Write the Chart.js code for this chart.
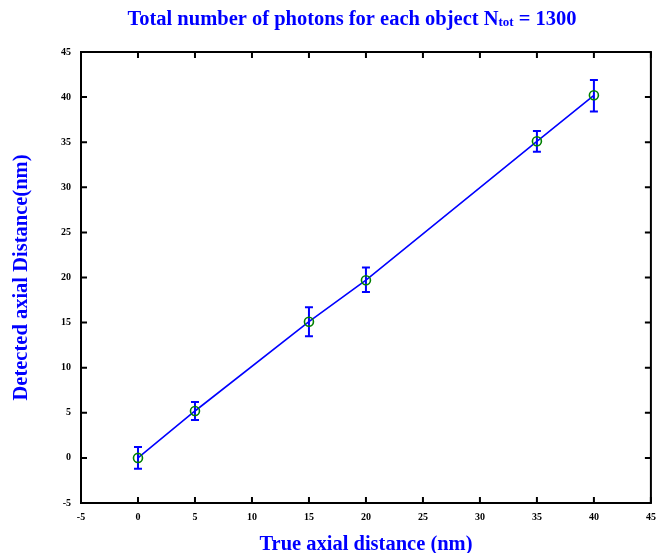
<!DOCTYPE html>
<html>
<head>
<meta charset="utf-8">
<script src="https://cdn.jsdelivr.net/npm/chart.js@4.4.1/dist/chart.umd.min.js"></script>
<style>
html, body { margin: 0; padding: 0; background: #fff; }
#wrap { width: 657px; height: 553px; position: relative; }
</style>
</head>
<body>
<div id="wrap"><canvas id="myChart"></canvas></div>
<script>
// data
var trueDistance = [0, 5, 15, 20, 35, 40];
var detectedDistance = [0, 5.2, 15.1, 19.7, 35.1, 40.2];
var errorLow = [1.2, 1.0, 1.6, 1.3, 1.15, 1.8];
var errorHigh = [1.2, 1.0, 1.6, 1.4, 1.15, 1.7];
var axisTicks = [-5, 0, 5, 10, 15, 20, 25, 30, 35, 40, 45];

var blue = '#0000ff';
var green = '#008000';
var serif = '"Liberation Serif", "Times New Roman", serif';

var points = trueDistance.map(function(x, i) {
    return { x: x, y: detectedDistance[i] };
});

// error bars, drawn under the markers
const errorBars = {
    id: 'errorBars',
    beforeDatasetsDraw: function(chart) {
        const ctx = chart.ctx;
        const xs = chart.scales.x, ys = chart.scales.y;
        ctx.save();
        ctx.strokeStyle = blue;
        ctx.lineWidth = 2;
        trueDistance.forEach(function(x, i) {
            var px = xs.getPixelForValue(x);
            var top = ys.getPixelForValue(detectedDistance[i] + errorHigh[i]);
            var bot = ys.getPixelForValue(detectedDistance[i] - errorLow[i]);
            ctx.beginPath();
            ctx.moveTo(px, top); ctx.lineTo(px, bot);
            ctx.moveTo(px - 4, top); ctx.lineTo(px + 4, top);
            ctx.moveTo(px - 4, bot); ctx.lineTo(px + 4, bot);
            ctx.stroke();
        });
        ctx.restore();
    }
};

// box round the plot with inward ticks, and title with subscript
const frame = {
    id: 'frame',
    afterDraw: function(chart) {
        const ctx = chart.ctx;
        const a = chart.chartArea;
        const xs = chart.scales.x, ys = chart.scales.y;
        ctx.save();
        ctx.strokeStyle = '#000';
        ctx.lineWidth = 2;
        ctx.strokeRect(a.left, a.top, a.right - a.left, a.bottom - a.top);
        ctx.beginPath();
        axisTicks.forEach(function(t) {
            var px = xs.getPixelForValue(t);
            ctx.moveTo(px, a.bottom); ctx.lineTo(px, a.bottom - 6);
            ctx.moveTo(px, a.top); ctx.lineTo(px, a.top + 6);
            var py = ys.getPixelForValue(t);
            ctx.moveTo(a.left, py); ctx.lineTo(a.left + 6, py);
            ctx.moveTo(a.right, py); ctx.lineTo(a.right - 6, py);
        });
        ctx.stroke();

        // title
        var main = 'Total number of photons for each object N';
        var sub = 'tot';
        var tail = ' = 1300';
        var bigFont = 'bold 20.5px ' + serif;
        var smallFont = 'bold 13px ' + serif;
        ctx.font = bigFont;
        var w1 = ctx.measureText(main).width;
        var w3 = ctx.measureText(tail).width;
        ctx.font = smallFont;
        var w2 = ctx.measureText(sub).width;
        var x0 = 352 - (w1 + w2 + w3) / 2;
        var yb = 25;
        ctx.fillStyle = blue;
        ctx.textBaseline = 'alphabetic';
        ctx.textAlign = 'left';
        ctx.font = bigFont;
        ctx.fillText(main, x0, yb);
        ctx.font = smallFont;
        ctx.fillText(sub, x0 + w1, yb + 1);
        ctx.font = bigFont;
        ctx.fillText(tail, x0 + w1 + w2, yb);
        ctx.restore();
    }
};

const ctx = document.getElementById('myChart').getContext('2d');
const myChart = new Chart(ctx, {
    type: 'scatter',
    data: {
        datasets: [{
            label: 'Detected',
            data: points,
            showLine: true,
            borderColor: blue,
            borderWidth: 1.6,
            pointStyle: 'circle',
            pointRadius: 4.5,
            pointBorderWidth: 1.6,
            pointBorderColor: green,
            pointBackgroundColor: 'rgba(0,0,0,0)',
            tension: 0
        }]
    },
    options: {
        responsive: true,
        maintainAspectRatio: false,
        animation: false,
        devicePixelRatio: 1,
        layout: { padding: { top: 52, right: 5, left: 0, bottom: 0 } },
        plugins: {
            legend: { display: false },
            tooltip: { enabled: false },
            title: { display: false }
        },
        scales: {
            x: {
                type: 'linear',
                min: -5,
                max: 45,
                afterFit: function(scale) {
                    scale.height = 50;
                    scale.paddingLeft = 0;
                    scale.paddingRight = 0;
                },
                afterBuildTicks: function(scale) {
                    scale.ticks = axisTicks.map(function(v) { return { value: v }; });
                },
                grid: { display: false, drawTicks: false },
                border: { display: false },
                ticks: {
                    color: '#000',
                    padding: 8,
                    maxRotation: 0,
                    font: { family: serif, size: 10, weight: 'bold' }
                },
                title: {
                    display: true,
                    text: 'True axial distance (nm)',
                    color: blue,
                    padding: { top: 0, bottom: -4 },
                    font: { family: serif, size: 20.5, weight: 'bold' }
                }
            },
            y: {
                type: 'linear',
                min: -5,
                max: 45,
                afterFit: function(scale) {
                    scale.width = 81;
                    scale.paddingTop = 0;
                    scale.paddingBottom = 0;
                },
                afterBuildTicks: function(scale) {
                    scale.ticks = axisTicks.map(function(v) { return { value: v }; });
                },
                grid: { display: false, drawTicks: false },
                border: { display: false },
                ticks: {
                    color: '#000',
                    padding: 10,
                    font: { family: serif, size: 10, weight: 'bold' }
                },
                title: {
                    display: true,
                    text: 'Detected axial Distance(nm)',
                    color: blue,
                    padding: { top: 9, bottom: 0 },
                    font: { family: serif, size: 20.5, weight: 'bold' }
                }
            }
        }
    },
    plugins: [errorBars, frame]
});
</script>
</body>
</html>
